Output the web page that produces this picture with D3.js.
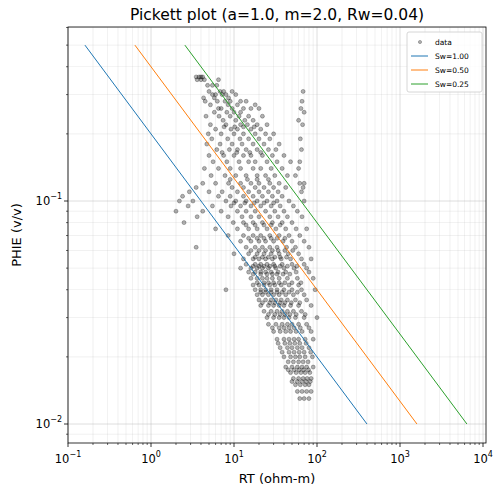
<!DOCTYPE html>
<html><head><meta charset="utf-8">
<script src="https://cdn.jsdelivr.net/npm/d3@7"></script>
<style>body{margin:0;background:#fff}</style></head>
<body><svg id="c" width="502" height="495"></svg>
<script>
const a = 1.0, m = 2.0, Rw = 0.04;
const swValues = [1.00, 0.50, 0.25];
const swColors = ["#1f77b4", "#ff7f0e", "#2ca02c"];
const phiRange = [0.01, 0.5];
const xTicks = [0.1, 1, 10, 100, 1000, 10000];
const yTicks = [0.01, 0.1];
// PHIE levels (v/v) and the RT values (ohm-m) read at each level
const phiLevels = [0.36,0.35,0.33,0.31,0.30,0.28,0.27,0.26,0.25,0.24,0.23,0.22,0.21,0.20,0.19,0.18,0.17,0.16,0.15,0.14,0.13,0.12,0.115,0.11,0.105,0.10,0.095,0.09,0.085,0.08,0.075,0.07,0.066,0.062,0.058,0.055,0.052,0.05,0.048,0.045,0.042,0.04,0.038,0.036,0.034,0.032,0.03,0.028,0.026,0.024,0.022,0.02,0.019,0.018,0.017,0.016,0.015,0.014,0.013];
const rtByLevel = [
 [3.5,3.8,4.0,4.2],[3.6,4.4,4.0,6.5],[4.8,5.5,6.2],[5,6.8,7.5,9.5,68],[5.5,6,7.2,8,10.5],
 [4.5,6.3,7.8,9,12,14,66],[5.2,8.5,11,18],[6.5,7,9.5,13,16,20,64],[5.8,8.2,10,12,70],[4.6,6.6,9,11.5,15,22],
 [7.4,10.5,13.5,17,60],[5.2,8,12,14.5,19,25,67],[6,9.2,11,16,21],[4.9,7,10,13,18,24,30],[5.4,8.4,11.8,15,20,27,63],
 [4.7,6.8,9.5,12.5,17,23,35],[6.2,8.8,11,14,19,26,32,65],[5,7.5,10,13,16,22,29,40],[5.6,8.2,11.5,15,18,25,33,48,62],[4.4,6.5,9,12,17,21,28,38,60],
 [5.3,7.8,10.5,14,19,24,31,44,55],[4.2,6,8.6,12,16,20,27,35,62,70],[3.5,9.5,13,18,23,30,42,68],[2.9,5,7.2,11,15,20,26,34,65],[2.4,6.5,9,13,17,22,29,38],
 [2.2,3.2,8,10.5,14,19,25,33,46,70],[2.8,5.5,9.2,12,16,21,28,36,52],[2.0,4.2,7,11,14,18,24,31,40,58],[3.6,8.5,12.5,16,20,27,34,44,66],[2.5,9.8,13,17,22,29,38,50],
 [6,11,15,19,25,32,42,56,75],[8.5,13,17,21,27,35,46,62],[12,16,20,24,30,39,50,70],[3.5,14,18,22,27,33,43,55,80],[10,15,19,23,28,35,45,60],
 [13,17,20,24,29,37,48,65,85],[14,18,21,25,30,38,50,70],[12,16,19,22,26,32,40,53,75],[15,18,21,24,28,34,42,56,80],[16,19,22,25,29,35,44,58,90],
 [17,20,23,27,31,37,46,60],[8,18,21,24,28,33,40,50,65,95],[19,22,26,30,35,42,52,70],[20,24,28,32,37,44,55,75],[21,26,30,35,40,48,60,85],
 [23,28,33,38,44,52,65],[25,30,35,40,46,55,70,100],[26,32,38,44,50,60,75],[30,36,42,48,56,66,85],[33,40,46,53,60,72,90],
 [36,44,50,58,66,80],[40,48,55,62,72,88],[45,52,60,68,78],[42,50,58,66,75,90],[48,56,64,72,82],
 [52,60,68,76,85],[55,63,72,80],[58,66,75,85],[62,70,80]
];
// dense core of the cloud: extra levels between the ones above
const corePhi = [0.29,0.215,0.165,0.125,0.098,0.078,0.068,0.06,0.056,0.051,0.047,0.043,0.039,0.035,0.031,0.027,0.023,0.021,0.0175,0.0155];
const coreRT = [
 [4.3,5.8,8.6],[7.6,10.2,13,17.5],[7.2,10.8,15.5,21],[9,14.5,19,26],[10,13.5,17.5,23,30],
 [14,18,23,28,36],[15,19,23,28,33,41],[16,20,24,29,34,41,51],[18,22,26,31,36,43],[17,20,23,27,31,36,44,57],
 [17,21,25,29,33,39,47],[19,23,26,30,35,41,50,64],[21,24,28,33,38,46,58],[22,27,31,36,41,49,62],[26,31,36,41,47,56,72],
 [29,35,40,46,53,63,80],[34,41,47,54,62,74],[38,46,53,61,70,84],[45,53,61,69,79],[50,58,66,74,83]
];

const W = 502, H = 495, L = 68, R = 486, T = 27, B = 443;
const svg = d3.select("#c");
const x = d3.scaleLog().domain([0.1, 10 ** (4 + 3 / 83)]).range([L, R]);
const y = d3.scaleLog().domain([10 ** (-2 - 19 / 223), 10 ** (-1 + 174 / 223)]).range([B, T]);

const g = svg.append("g");
const minorX = [], minorY = [];
for (let e = -1; e <= 4; e++) for (let k = 1; k <= 9; k++) { const v = k * 10 ** e; if (v >= x.domain()[0] && v <= x.domain()[1]) minorX.push(v); }
for (let e = -3; e <= 0; e++) for (let k = 1; k <= 9; k++) { const v = k * 10 ** e; if (v >= y.domain()[0] && v <= y.domain()[1]) minorY.push(v); }
g.selectAll(".gx").data(minorX).join("line").attr("x1", d => x(d)).attr("x2", d => x(d)).attr("y1", T).attr("y2", B)
  .attr("stroke", "#b0b0b0").attr("stroke-width", d => xTicks.includes(d) ? 0.8 : 0.5).attr("opacity", d => xTicks.includes(d) ? 0.5 : 0.35);
g.selectAll(".gy").data(minorY).join("line").attr("y1", d => y(d)).attr("y2", d => y(d)).attr("x1", L).attr("x2", R)
  .attr("stroke", "#b0b0b0").attr("stroke-width", d => yTicks.includes(d) ? 0.8 : 0.5).attr("opacity", d => yTicks.includes(d) ? 0.5 : 0.35);

const pts = [];
phiLevels.forEach((p, i) => rtByLevel[i].forEach(r => pts.push([r, p])));
corePhi.forEach((p, i) => coreRT[i].forEach(r => pts.push([r, p])));
svg.append("g").selectAll("circle").data(pts).join("circle")
  .attr("cx", d => x(d[0])).attr("cy", d => y(d[1])).attr("r", 2)
  .attr("fill", "#000").attr("fill-opacity", 0.3).attr("stroke", "#000").attr("stroke-opacity", 0.45).attr("stroke-width", 0.6);

const line = d3.line().x(d => x(d[0])).y(d => y(d[1]));
swValues.forEach((sw, i) => {
  const pd = phiRange.map(p => [a * Rw / (p ** m * sw ** 2), p]);
  svg.append("path").attr("d", line(pd)).attr("stroke", swColors[i]).attr("stroke-width", 1).attr("fill", "none");
});

svg.append("rect").attr("x", L).attr("y", T).attr("width", R - L).attr("height", B - T).attr("fill", "none").attr("stroke", "#000").attr("stroke-width", 0.8);
const ax = svg.append("g").attr("font-family", "DejaVu Sans").attr("font-size", 11.5);
minorX.forEach(v => { const maj = xTicks.includes(v); ax.append("line").attr("x1", x(v)).attr("x2", x(v)).attr("y1", B).attr("y2", B + (maj ? 4 : 2)).attr("stroke", "#000").attr("stroke-width", maj ? 0.8 : 0.6); });
minorY.forEach(v => { const maj = yTicks.includes(v); ax.append("line").attr("y1", y(v)).attr("y2", y(v)).attr("x1", L).attr("x2", L - (maj ? 4 : 2)).attr("stroke", "#000").attr("stroke-width", maj ? 0.8 : 0.6); });
xTicks.forEach(v => {
  const e = Math.round(Math.log10(v));
  const t = ax.append("text").attr("x", x(v)).attr("y", B + 20).attr("text-anchor", "middle");
  t.append("tspan").text("10");
  t.append("tspan").attr("dy", -6).attr("font-size", 8).text(e < 0 ? "\u2212" + (-e) : e);
});
yTicks.forEach(v => {
  const e = Math.round(Math.log10(v));
  const t = ax.append("text").attr("x", L - 6).attr("y", y(v) + 4).attr("text-anchor", "end");
  t.append("tspan").text("10");
  t.append("tspan").attr("dy", -6).attr("font-size", 8).text("\u2212" + (-e));
});
ax.append("text").attr("x", (L + R) / 2).attr("y", 483).attr("text-anchor", "middle").attr("font-size", 13).text("RT (ohm-m)");
ax.append("text").attr("transform", `translate(21,${(T + B) / 2}) rotate(-90)`).attr("text-anchor", "middle").attr("font-size", 13).text("PHIE (v/v)");
ax.append("text").attr("x", (L + R) / 2).attr("y", 20).attr("text-anchor", "middle").attr("font-size", 15.5).text("Pickett plot (a=1.0, m=2.0, Rw=0.04)");

const lg = svg.append("g").attr("transform", "translate(407,32)").attr("font-family", "DejaVu Sans").attr("font-size", 7.5);
lg.append("rect").attr("width", 75).attr("height", 60).attr("rx", 2).attr("fill", "#fff").attr("fill-opacity", 0.8).attr("stroke", "#ccc").attr("stroke-width", 0.8);
lg.append("circle").attr("cx", 13).attr("cy", 10).attr("r", 1.6).attr("fill", "#000").attr("fill-opacity", 0.3).attr("stroke", "#000").attr("stroke-opacity", 0.45).attr("stroke-width", 0.6);
lg.append("text").attr("x", 28).attr("y", 13).text("data");
swValues.forEach((sw, i) => {
  const yy = 24 + i * 14;
  lg.append("line").attr("x1", 4).attr("x2", 21).attr("y1", yy).attr("y2", yy).attr("stroke", swColors[i]).attr("stroke-width", 1);
  lg.append("text").attr("x", 28).attr("y", yy + 3).text("Sw=" + sw.toFixed(2));
});
</script></body></html>
